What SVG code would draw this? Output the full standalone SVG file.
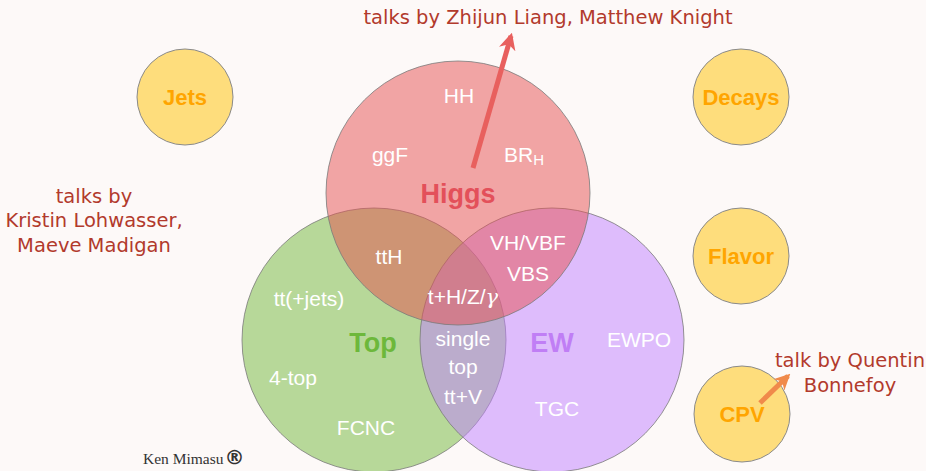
<svg xmlns="http://www.w3.org/2000/svg" width="926" height="471" viewBox="0 0 926 471">
<defs>
<style>
.big{stroke:#7a7a7a;stroke-width:1;stroke-opacity:0.8}
.sm{fill:#fedd7c;stroke:#8a8a8a;stroke-width:1}
.w{fill:#ffffff;font-family:"Liberation Sans",Arial,sans-serif;font-size:21px;text-anchor:middle}
.lab{font-family:"Liberation Sans",Arial,sans-serif;font-weight:bold;text-anchor:middle}
.o{fill:#ffa500;font-size:22px}
.talk{fill:#b23a2c;font-family:"DejaVu Sans",sans-serif;font-size:19.5px;text-anchor:middle}
</style>
<marker id="ahr" viewBox="0 0 10 10" refX="8" refY="5" markerWidth="3.4" markerHeight="3.4" orient="auto"><path d="M0,0 L10,5 L0,10 L3,5 z" fill="#e8605e"/></marker>
<marker id="aho" viewBox="0 0 10 10" refX="8" refY="5" markerWidth="3.2" markerHeight="3.2" orient="auto"><path d="M0,0 L10,5 L0,10 L3,5 z" fill="#f08a4b"/></marker>
</defs>
<rect width="926" height="471" fill="#fdf9f8"/>
<g id="top"><circle class="big" cx="374" cy="340" r="132" fill="#72b83a" fill-opacity="0.5"/></g>
<g id="ew"><circle class="big" cx="552" cy="340" r="132" fill="#c080ff" fill-opacity="0.5"/></g>
<g id="higgs"><circle class="big" cx="458" cy="193" r="132" fill="#e5504f" fill-opacity="0.5"/></g>
<g id="jets"><circle class="sm" cx="185" cy="97" r="48"/><text class="lab o" x="185" y="105">Jets</text></g>
<g id="decays"><circle class="sm" cx="741" cy="97" r="48"/><text class="lab o" x="741" y="105">Decays</text></g>
<g id="flavor"><circle class="sm" cx="741" cy="256" r="48"/><text class="lab o" x="741" y="264">Flavor</text></g>
<g id="cpv"><circle class="sm" cx="742" cy="414" r="48"/><text class="lab o" x="742" y="422">CPV</text></g>
<g id="labels">
<text class="lab" x="458" y="203" fill="#e3505a" font-size="27">Higgs</text>
<text class="lab" x="373" y="352" fill="#6db83b" font-size="27">Top</text>
<text class="lab" x="552" y="352" fill="#c07ef5" font-size="27">EW</text>
<text class="w" x="459" y="103">HH</text>
<text class="w" x="390" y="162">ggF</text>
<text class="w" x="524" y="162">BR<tspan font-size="15" dy="3">H</tspan></text>
<text class="w" x="389" y="264">ttH</text>
<text class="w" x="528" y="250">VH/VBF</text>
<text class="w" x="528" y="281">VBS</text>
<text class="w" x="463" y="304" font-size="17">t+H/Z/<tspan font-family="'DejaVu Serif',serif" font-style="italic">γ</tspan></text>
<text class="w" x="309" y="306">tt(+jets)</text>
<text class="w" x="463" y="346">single</text>
<text class="w" x="463" y="374">top</text>
<text class="w" x="463" y="404">tt+V</text>
<text class="w" x="639" y="347">EWPO</text>
<text class="w" x="293" y="385">4-top</text>
<text class="w" x="557" y="416">TGC</text>
<text class="w" x="366" y="435">FCNC</text>
</g>
<g id="talks">
<text class="talk" x="548" y="24">talks by Zhijun Liang, Matthew Knight</text>
<text class="talk" x="94" y="203">talks by</text>
<text class="talk" x="94" y="227">Kristin Lohwasser,</text>
<text class="talk" x="94" y="252">Maeve Madigan</text>
<text class="talk" x="850" y="367">talk by Quentin</text>
<text class="talk" x="850" y="392">Bonnefoy</text>
</g>
<g id="connectors">
<line x1="473" y1="168" x2="511" y2="36" stroke="#e8605e" stroke-width="5" marker-end="url(#ahr)"/>
<line x1="760" y1="403" x2="788" y2="376" stroke="#f08a4b" stroke-width="5" marker-end="url(#aho)"/>
</g>
<g id="credit">
<text x="143" y="464" fill="#333" font-family="'Liberation Serif',serif" font-size="15.5">Ken Mimasu<tspan font-family="'DejaVu Sans',sans-serif" font-weight="bold" font-size="20" dx="1">®</tspan></text>
</g>
</svg>
